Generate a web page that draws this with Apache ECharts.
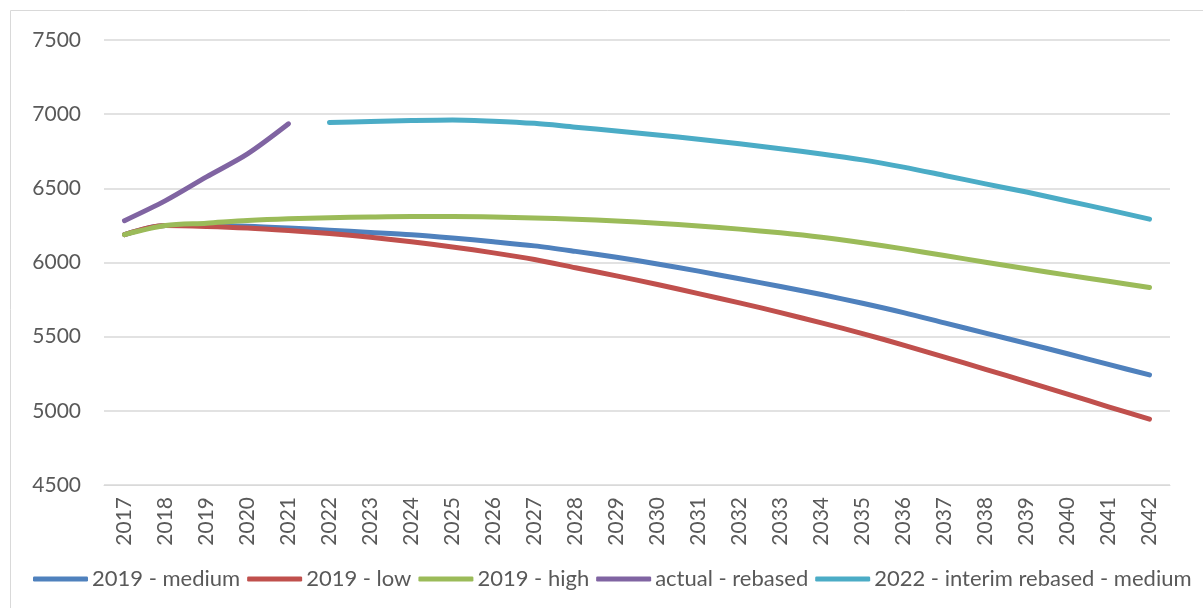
<!DOCTYPE html>
<html>
<head>
<meta charset="utf-8">
<script src="https://cdn.jsdelivr.net/npm/echarts@6/dist/echarts.min.js"></script>
<style>
html,body{margin:0;padding:0;background:#fff;}
#chart{width:1203px;height:608px;}
</style>
</head>
<body>
<div id="chart"></div>
<script>
const years = ['2017','2018','2019','2020','2021','2022','2023','2024','2025','2026','2027','2028','2029','2030','2031','2032','2033','2034','2035','2036','2037','2038','2039','2040','2041','2042'];
const medium2019 = [6188,6249,6250,6245,6233,6218,6203,6187,6165,6140,6112,6075,6035,5990,5942,5890,5838,5784,5725,5662,5593,5524,5455,5385,5313,5242];
const low2019    = [6188,6249,6243,6232,6215,6195,6170,6140,6105,6065,6020,5965,5910,5852,5790,5728,5662,5593,5521,5443,5362,5280,5197,5113,5027,4944];
const high2019   = [6188,6249,6265,6283,6295,6302,6307,6310,6310,6307,6300,6292,6280,6265,6246,6225,6200,6170,6133,6092,6047,6002,5958,5915,5873,5831];
const actualRebased = [6282,6417,6577,6732,6935,null,null,null,null,null,null,null,null,null,null,null,null,null,null,null,null,null,null,null,null,null];
const interim2022 = [null,null,null,null,null,6943,6950,6957,6961,6953,6938,6912,6887,6860,6831,6800,6767,6732,6692,6643,6587,6530,6475,6415,6355,6292];
const yTicks = ['4500','5000','5500','6000','6500','7000','7500'];
const seriesNames = ['2019 - medium','2019 - low','2019 - high','actual - rebased','2022 - interim rebased - medium'];
const colors = ['#4f81bd','#c0504d','#9bbb59','#8064a2','#4bacc6'];
const seriesData = [medium2019, low2019, high2019, actualRebased, interim2022];

const chart = echarts.init(document.getElementById('chart'));
const font = 'Lato';
chart.setOption({
  animation: false,
  color: colors,
  graphic: [{
    type: 'rect',
    shape: {x: 10.5, y: 10.5, width: 1220, height: 620},
    style: {fill: 'none', stroke: '#d9d9d9', lineWidth: 1},
    silent: true
  }],
  grid: {left: 104, right: 33, top: 40, bottom: 123},
  legend: {
    data: seriesNames,
    left: 33,
    top: 568,
    padding: 0,
    icon: 'roundRect',
    itemWidth: 55,
    itemHeight: 5,
    itemGap: 7,
    textStyle: {fontFamily: font, fontSize: 22, color: '#595959', padding: [0,0,0,-1]}
  },
  xAxis: {
    type: 'category',
    data: years,
    boundaryGap: true,
    axisLine: {lineStyle: {color: '#d9d9d9', width: 1}},
    axisTick: {show: false},
    axisLabel: {rotate: 90, fontFamily: font, fontSize: 21, color: '#595959', margin: 12, interval: 0}
  },
  yAxis: {
    type: 'value',
    min: Number(yTicks[0]), max: Number(yTicks[yTicks.length - 1]), interval: 500,
    axisLine: {show: false},
    axisTick: {show: false},
    splitLine: {lineStyle: {color: '#d9d9d9', width: 1.5}},
    axisLabel: {fontFamily: font, fontSize: 21, color: '#595959', margin: 23, formatter: v => String(v)}
  },
  series: seriesData.map((d, i) => ({
    name: seriesNames[i],
    type: 'line',
    data: d,
    smooth: 0.3,
    showSymbol: false,
    symbol: 'none',
    connectNulls: false,
    lineStyle: {width: 5, color: colors[i], cap: 'round', join: 'round'},
    itemStyle: {color: colors[i]}
  }))
});
</script>
</body>
</html>
